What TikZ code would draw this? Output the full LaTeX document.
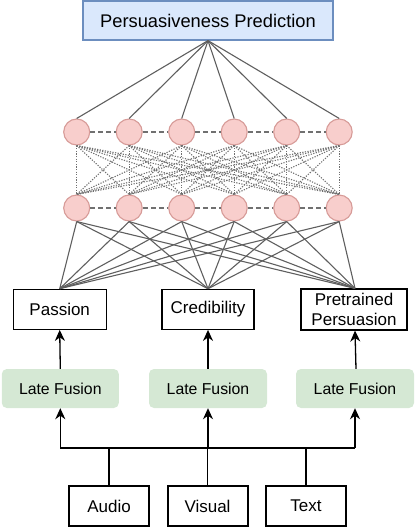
\documentclass[tikz,border=0pt]{standalone}
\usepackage{fontspec}
\setmainfont{Liberation Sans}
\usetikzlibrary{arrows.meta}
\definecolor{topfill}{HTML}{DAE8FC}
\definecolor{topdraw}{HTML}{6C8EBF}
\definecolor{neufill}{HTML}{F8CECC}
\definecolor{neudraw}{HTML}{D79B98}
\definecolor{lffill}{HTML}{D5E8D4}
\definecolor{edge}{HTML}{5F5F5F}
\definecolor{dashc}{HTML}{707070}
\begin{document}
\begin{tikzpicture}[x=1pt,y=-1pt,
  neuron/.style={circle,draw=neudraw,fill=neufill,line width=1.1pt,minimum size=26pt,inner sep=0pt},
  featbox/.style={draw=black,line width=1.2pt,minimum height=40pt,inner sep=0pt,font=\fontsize{17}{19.3}\selectfont,align=center},
  lfbox/.style={fill=lffill,rounded corners=5pt,minimum width=118pt,minimum height=39pt,inner sep=0pt,font=\fontsize{15.8}{18}\selectfont},
  inbox/.style={draw=black,line width=2pt,minimum width=80pt,minimum height=40pt,inner sep=0pt,font=\fontsize{17}{19}\selectfont},
  conn/.style={draw=edge,line width=1.1pt},
  rowdash/.style={draw=dashc,line width=1.4pt,dash pattern=on 5pt off 3pt},
  cross/.style={draw=dashc,line width=1.1pt,dash pattern=on 1.2pt off 1.4pt},
  arr/.style={draw=black,line width=1.3pt,-{Stealth[length=11pt,width=10pt,inset=3.5pt]}},
  feed/.style={draw=black,line width=1.3pt}]
\useasboundingbox (0,0) rectangle (415,530);
% top box
\node[draw=topdraw,fill=topfill,line width=1.2pt,minimum width=250pt,minimum height=39pt,inner sep=0pt,font=\fontsize{18.3}{22}\selectfont] (pred) at (208,20.5) {Persuasiveness Prediction};
% neurons
\foreach \i/\x in {1/76.7,2/129.2,3/181.7,4/234.2,5/286.7,6/339.2}{
  \node[neuron] (t\i) at (\x,132) {};
  \node[neuron] (b\i) at (\x,208) {};
}
% feature boxes
\node[featbox,minimum width=93pt] (passion) at (59.7,309.3) {Passion};
\node[featbox,minimum width=92pt] (cred) at (208,309.3) {Credibility};
\node[featbox,minimum width=106pt,minimum height=41pt] (pre) at (354,309.5) {Pretrained\\Persuasion};
% late fusion
\node[lfbox,minimum width=117pt] (lf1) at (60.3,388.5) {Late Fusion};
\node[lfbox] (lf2) at (208,388.5) {Late Fusion};
\node[lfbox] (lf3) at (355,388.5) {Late Fusion};
% inputs
\node[inbox] (audio) at (109,506) {Audio};
\node[inbox] (visual) at (207.5,506) {Visual};
\node[inbox] (text) at (306,506) {Text};
\coordinate (bus) at (0,448);
% connectors: prediction to top row
\foreach \i in {1,...,6}{ \draw[conn] (pred.south) -- (t\i.north); }
% dashed rows
\foreach \i/\j in {1/2,2/3,3/4,4/5,5/6}{
  \draw[rowdash] (t\i.east) -- (t\j.west);
  \draw[rowdash] (b\i.east) -- (b\j.west);
}
% dotted cross connections
\foreach \i in {1,...,6}{
  \foreach \j in {1,...,6}{ \draw[cross] (t\i.south) -- (b\j.north); }
}
% bottom row to feature boxes
\foreach \i in {1,...,6}{
  \draw[conn] (b\i.south) -- (passion.north);
  \draw[conn] (b\i.south) -- (cred.north);
  \draw[conn] (b\i.south) -- ([xshift=1pt]pre.north);
}
% late fusion to feature boxes
\draw[arr] (lf1.north) -- (passion.south);
\draw[arr] (lf2.north) -- (cred.south);
\draw[arr] ([xshift=1pt]lf3.north) -- ([xshift=1pt]pre.south);
% bus
\draw[feed] (lf1.south |- bus) -- (lf3.south |- bus);
\draw[arr] (lf1.south |- bus) -- (lf1.south);
\draw[arr] (lf2.south |- bus) -- (lf2.south);
\draw[arr] (lf3.south |- bus) -- (lf3.south);
\draw[feed] (audio.north) -- (audio.north |- bus);
\draw[feed] (visual.north) -- (visual.north |- bus);
\draw[feed] (text.north) -- (text.north |- bus);
\end{tikzpicture}
\end{document}
